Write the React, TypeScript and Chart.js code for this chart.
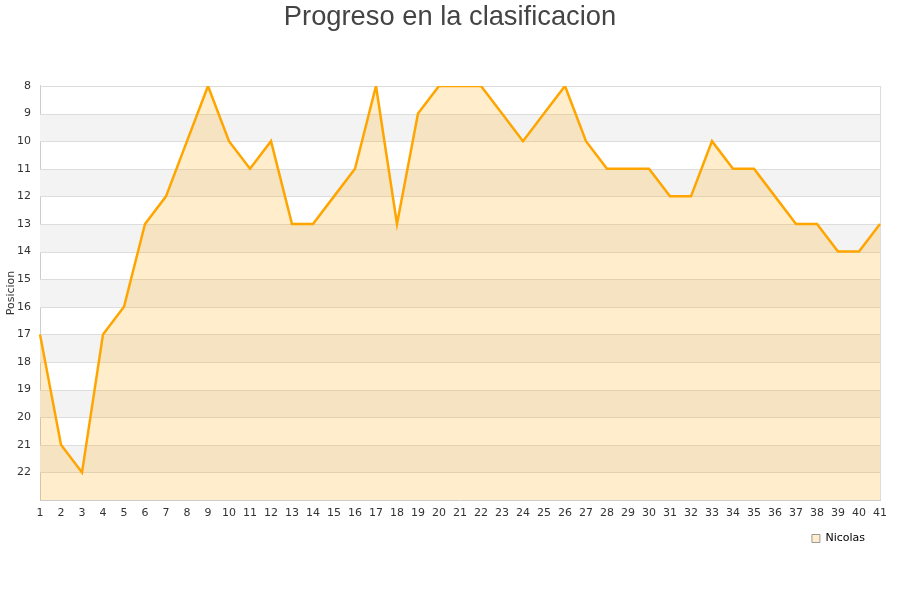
import React, { useEffect, useRef } from "react";
import { Chart, registerables } from "chart.js";

Chart.register(...registerables);

const rounds: string[] = Array.from({ length: 41 }, (_, i) => String(i + 1));
const positions: number[] = [
  17, 21, 22, 17, 16, 13, 12, 10, 8, 10,
  11, 10, 13, 13, 12, 11, 8, 13, 9, 8,
  8, 8, 9, 10, 9, 8, 10, 11, 11, 11,
  12, 12, 10, 11, 11, 12, 13, 13, 14, 14,
  13,
];
const seriesName = "Nicolas";
const chartTitle = "Progreso en la clasificacion";
const yTitle = "Posicion";
const yMin = 8;
const yMax = 23;
const bandStarts: number[] = [9, 11, 13, 15, 17, 19, 21];

const bandsPlugin = {
  id: "bands",
  beforeDatasetsDraw(chart: any) {
    const { ctx, chartArea, scales } = chart;
    const y = scales.y;
    ctx.save();
    ctx.fillStyle = "#f3f3f3";
    bandStarts.forEach((b) => {
      const y1 = Math.round(y.getPixelForValue(b));
      const y2 = Math.round(y.getPixelForValue(b + 1));
      ctx.fillRect(chartArea.left, Math.min(y1, y2), chartArea.right - chartArea.left, Math.abs(y2 - y1));
    });
    ctx.strokeStyle = "#dddddd";
    ctx.lineWidth = 1;
    for (let v = yMin; v < yMax; v++) {
      const py = Math.round(y.getPixelForValue(v)) + 0.5;
      ctx.beginPath();
      ctx.moveTo(chartArea.left, py);
      ctx.lineTo(chartArea.right, py);
      ctx.stroke();
    }
    ctx.beginPath();
    ctx.moveTo(Math.round(chartArea.right) + 0.5, chartArea.top);
    ctx.lineTo(Math.round(chartArea.right) + 0.5, chartArea.bottom);
    ctx.stroke();
    ctx.restore();
  },
};

export default function App() {
  const ref = useRef<HTMLCanvasElement | null>(null);
  useEffect(() => {
    if (!ref.current) return;
    const chart = new Chart(ref.current, {
      type: "line",
      data: {
        labels: rounds,
        datasets: [
          {
            label: seriesName,
            data: positions,
            yAxisID: "y",
            borderColor: "#FFA500",
            backgroundColor: "rgba(255,165,0,0.2)",
            borderWidth: 2.5,
            pointRadius: 0,
            tension: 0,
            fill: { value: yMax },
          },
        ],
      },
      plugins: [bandsPlugin],
      options: {
        animation: false,
        responsive: false,
        layout: { padding: { left: 0, right: 0, top: 0, bottom: 46 } },
        plugins: {
          title: {
            display: true,
            text: chartTitle,
            color: "#444444",
            font: { family: "Liberation Sans", size: 27.3, weight: "normal" },
            padding: { top: 1, bottom: 52.2 },
          },
          legend: {
            display: true,
            position: "bottom",
            align: "end",
            fullSize: false,
            labels: {
              color: "#000000",
              font: { family: "DejaVu Sans", size: 11 },
              boxWidth: 8,
              boxHeight: 8,
              padding: 15,
              generateLabels: () => [
                {
                  text: seriesName,
                  fillStyle: "#FFEDCC",
                  strokeStyle: "#999999",
                  lineWidth: 1,
                  datasetIndex: 0,
                },
              ],
            },
          },
          tooltip: { enabled: false },
        },
        scales: {
          x: {
            grid: { display: false, drawTicks: false },
            border: { color: "#cccccc" },
            afterFit: (scale: any) => {
              scale.height = 18;
            },
            ticks: {
              color: "#333333",
              font: { family: "DejaVu Sans", size: 11 },
              autoSkip: false,
              maxRotation: 0,
              padding: 7,
            },
          },
          y: {
            reverse: true,
            min: yMin,
            max: yMax,
            position: "left",
            grid: { display: false, drawTicks: false },
            border: { color: "#cccccc" },
            afterFit: (scale: any) => {
              scale.width = 40;
            },
            title: {
              display: true,
              text: yTitle,
              color: "#333333",
              font: { family: "DejaVu Sans", size: 11 },
              padding: { top: 4.4, bottom: 0 },
            },
            ticks: {
              stepSize: 1,
              color: "#333333",
              font: { family: "DejaVu Sans", size: 11 },
              padding: 9,
              callback: (v: any) => (Number(v) === yMax ? "" : String(v)),
            },
          },
          yRight: {
            type: "linear",
            position: "right",
            display: true,
            grid: { display: false, drawTicks: false },
            border: { display: false },
            ticks: { display: false },
            afterFit: (scale: any) => {
              scale.width = 20;
            },
          },
        },
      },
    });
    return () => chart.destroy();
  }, []);
  return (
    <div style={{ position: "absolute", left: 0, top: 0, width: 900, height: 600, background: "#fff" }}>
      <canvas ref={ref} width={900} height={600} />
    </div>
  );
}
